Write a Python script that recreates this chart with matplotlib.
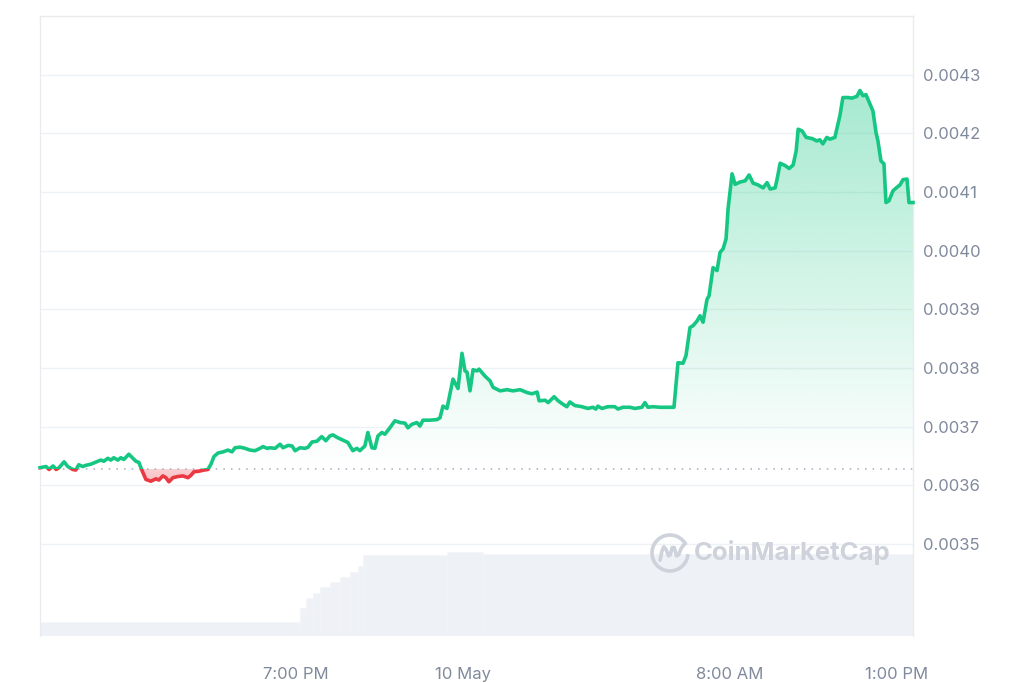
import matplotlib

matplotlib.use("Agg")
import matplotlib.pyplot as plt
import numpy as np
from matplotlib.patches import Rectangle, Arc
from matplotlib.path import Path

# hours relative to 10 May 00:00
TIMES = [
    -12.66, -12.48, -12.39, -12.27, -12.18, -12.09, -11.94, -11.83, -11.68, -11.59,
    -11.50, -11.38, -11.29, -11.14, -10.93, -10.84, -10.75, -10.63, -10.54, -10.45,
    -10.33, -10.24, -10.15, -10.00, -9.88, -9.79, -9.70, -9.61, -9.49, -9.34,
    -9.19, -9.10, -8.98, -8.89, -8.80, -8.68, -8.53, -8.38, -8.23, -8.14,
    -8.05, -7.90, -7.75, -7.63, -7.54, -7.45, -7.33, -7.18, -7.03, -6.91,
    -6.82, -6.67, -6.52, -6.37, -6.22, -6.07, -5.98, -5.86, -5.77, -5.62,
    -5.47, -5.38, -5.23, -5.11, -5.02, -4.87, -4.72, -4.63, -4.51, -4.37,
    -4.22, -4.10, -3.98, -3.89, -3.74, -3.59, -3.44, -3.29, -3.17, -3.08,
    -2.93, -2.84, -2.72, -2.63, -2.54, -2.42, -2.33, -2.18, -2.03, -1.88,
    -1.73, -1.64, -1.52, -1.37, -1.28, -1.19, -0.98, -0.77, -0.68, -0.59,
    -0.47, -0.29, -0.14, -0.02, 0.07, 0.13, 0.22, 0.31, 0.43, 0.49,
    0.67, 0.82, 0.91, 1.12, 1.33, 1.51, 1.72, 1.93, 2.08, 2.23,
    2.29, 2.47, 2.56, 2.74, 2.86, 3.01, 3.12, 3.21, 3.36, 3.57,
    3.75, 3.90, 3.99, 4.05, 4.17, 4.35, 4.56, 4.65, 4.80, 5.01,
    5.16, 5.37, 5.46, 5.55, 5.70, 5.91, 6.12, 6.30, 6.33, 6.45,
    6.60, 6.69, 6.81, 6.90, 7.02, 7.11, 7.20, 7.32, 7.38, 7.50,
    7.62, 7.71, 7.80, 7.89, 7.95, 8.07, 8.16, 8.31, 8.46, 8.58,
    8.70, 8.85, 9.00, 9.12, 9.21, 9.36, 9.42, 9.51, 9.66, 9.78,
    9.90, 9.99, 10.05, 10.17, 10.29, 10.47, 10.61, 10.70, 10.79, 10.91,
    11.00, 11.15, 11.30, 11.39, 11.54, 11.66, 11.81, 11.90, 11.99, 12.08,
    12.20, 12.29, 12.38, 12.44, 12.53, 12.62, 12.68, 12.77, 12.89, 13.01,
    13.10, 13.19, 13.31, 13.37, 13.49,
]

PRICES = [
    0.003630, 0.003632, 0.003627, 0.003633, 0.003627, 0.003630, 0.003640, 0.003632, 0.003627, 0.003626,
    0.003635, 0.003632, 0.003634, 0.003636, 0.003641, 0.003643, 0.003641, 0.003646, 0.003643, 0.003647,
    0.003643, 0.003647, 0.003644, 0.003653, 0.003646, 0.003641, 0.003639, 0.003626, 0.003610, 0.003607,
    0.003611, 0.003609, 0.003616, 0.003613, 0.003606, 0.003613, 0.003615, 0.003616, 0.003613, 0.003617,
    0.003623, 0.003624, 0.003626, 0.003627, 0.003636, 0.003649, 0.003655, 0.003657, 0.003660, 0.003657,
    0.003664, 0.003665, 0.003663, 0.003660, 0.003659, 0.003663, 0.003666, 0.003663, 0.003664, 0.003663,
    0.003670, 0.003664, 0.003668, 0.003667, 0.003659, 0.003664, 0.003663, 0.003665, 0.003674, 0.003675,
    0.003683, 0.003676, 0.003684, 0.003686, 0.003681, 0.003677, 0.003673, 0.003659, 0.003663, 0.003659,
    0.003667, 0.003690, 0.003664, 0.003663, 0.003684, 0.003690, 0.003687, 0.003698, 0.003710, 0.003707,
    0.003706, 0.003698, 0.003704, 0.003707, 0.003701, 0.003711, 0.003711, 0.003712, 0.003715, 0.003735,
    0.003731, 0.003781, 0.003765, 0.003825, 0.003795, 0.003793, 0.003761, 0.003797, 0.003795, 0.003798,
    0.003786, 0.003778, 0.003767, 0.003761, 0.003763, 0.003761, 0.003763, 0.003758, 0.003756, 0.003759,
    0.003744, 0.003745, 0.003741, 0.003751, 0.003744, 0.003738, 0.003734, 0.003742, 0.003736, 0.003734,
    0.003731, 0.003733, 0.003730, 0.003735, 0.003731, 0.003734, 0.003734, 0.003730, 0.003733, 0.003733,
    0.003731, 0.003733, 0.003741, 0.003733, 0.003734, 0.003733, 0.003733, 0.003733, 0.003733, 0.003809,
    0.003808, 0.003821, 0.003869, 0.003872, 0.003880, 0.003889, 0.003878, 0.003917, 0.003923, 0.003971,
    0.003966, 0.003997, 0.004003, 0.004020, 0.004071, 0.004131, 0.004113, 0.004117, 0.004119, 0.004129,
    0.004115, 0.004112, 0.004107, 0.004116, 0.004105, 0.004107, 0.004122, 0.004149, 0.004145, 0.004140,
    0.004146, 0.004170, 0.004207, 0.004204, 0.004193, 0.004191, 0.004187, 0.004189, 0.004182, 0.004193,
    0.004190, 0.004193, 0.004230, 0.004261, 0.004261, 0.004260, 0.004263, 0.004273, 0.004264, 0.004266,
    0.004250, 0.004238, 0.004202, 0.004187, 0.004153, 0.004148, 0.004082, 0.004085, 0.004102, 0.004108,
    0.004112, 0.004121, 0.004122, 0.004082, 0.004082,
]

REF_PRICE = 0.003628

# rolling volume bars: edges (hours) and values (USD)
VOL_EDGES = [-12.66, -4.87, -4.69, -4.48, -4.27, -3.98, -3.68, -3.38, -3.14, -2.99, -0.47, 0.61, 13.49]
VOLUMES = [140000, 281000, 381000, 431000, 491000, 541000, 582000, 632000, 700000, 802000, 832000, 812000]

PRICE_TICKS = [0.0035, 0.0036, 0.0037, 0.0038, 0.0039, 0.0040, 0.0041, 0.0042, 0.0043]
X_TICKS = [-5, 0, 8, 13]
X_LABELS = ["7:00 PM", "10 May", "8:00 AM", "1:00 PM"]

GREEN = "#16c784"
RED = "#ea3943"
TEXT = "#808a9d"
GRID = "#eff2f5"

plt.rcParams["font.family"] = ["Inter", "DejaVu Sans"]

fig = plt.figure(figsize=(10.24, 6.83), dpi=100)
vol_ax = fig.add_axes([0.0391, 0.0688, 0.8525, 0.9078])
ax = fig.add_axes([0.0391, 0.0688, 0.8525, 0.9078], sharex=vol_ax)
ax.patch.set_visible(False)

t = np.array(TIMES)
p = np.array(PRICES)
x0, x1 = TIMES[0], TIMES[-1]
y0, y1 = 0.0033431, 0.0044

# volume
widths = np.diff(VOL_EDGES)
vol_ax.bar(VOL_EDGES[:-1], VOLUMES, width=widths, align="edge", color="#eef1f5",
           edgecolor="#f3f5f8", linewidth=0.4)
vol_ax.set_ylim(0, max(VOLUMES) / 0.135)
vol_ax.set_yticks([])
vol_ax.tick_params(axis="x", length=0, labelbottom=False)
for s in vol_ax.spines.values():
    s.set_visible(False)

# price axis
ax.set_xlim(x0, x1)
ax.set_ylim(y0, y1)
ax.set_yticks(PRICE_TICKS)
ax.set_yticklabels([f"{v:.4f}" for v in PRICE_TICKS])
ax.yaxis.tick_right()
ax.tick_params(axis="y", length=0, pad=7, labelsize=12, labelcolor=TEXT)
ax.set_xticks(X_TICKS)
ax.set_xticklabels(X_LABELS)
ax.tick_params(axis="x", length=0, pad=22, labelsize=12, labelcolor=TEXT)
for v in PRICE_TICKS:
    ax.axhline(v, color=GRID, linewidth=1.0, zorder=0)
for side in ["top", "left", "right"]:
    ax.spines[side].set_color("#e9ebef")
    ax.spines[side].set_linewidth(1.0)
ax.spines["bottom"].set_visible(False)

# gradient fills between price and reference
poly = ax.fill_between(t, p, REF_PRICE, color="none", linewidth=0)
clip = Path.make_compound_path(*poly.get_paths())

g = np.linspace(0.38, 0.0, 256).reshape(-1, 1)
green_img = np.zeros((256, 1, 4))
green_img[..., :3] = matplotlib.colors.to_rgb(GREEN)
green_img[..., 3] = g
im = ax.imshow(green_img, extent=[x0, x1, REF_PRICE, max(PRICES)], aspect="auto",
               origin="upper", zorder=1, interpolation="bilinear")
im.set_clip_path(clip, transform=ax.transData)

r = np.linspace(0.24, 0.32, 64).reshape(-1, 1)
red_img = np.zeros((64, 1, 4))
red_img[..., :3] = matplotlib.colors.to_rgb(RED)
red_img[..., 3] = r
im2 = ax.imshow(red_img, extent=[x0, x1, min(PRICES), REF_PRICE], aspect="auto",
                origin="upper", zorder=1, interpolation="bilinear")
im2.set_clip_path(clip, transform=ax.transData)
ax.set_xlim(x0, x1)
ax.set_ylim(y0, y1)

# baseline
ax.axhline(REF_PRICE, color="#a6acb9", linewidth=1.1, linestyle=(0, (1, 4)), zorder=2)

# price line, green above the reference and red below it
up = ax.plot(t, p, color=GREEN, linewidth=2.6, solid_joinstyle="round", zorder=3)[0]
dn = ax.plot(t, p, color=RED, linewidth=2.6, solid_joinstyle="round", zorder=3)[0]
up.set_clip_path(Rectangle((x0 - 1, REF_PRICE), x1 - x0 + 2, 1, transform=ax.transData))
dn.set_clip_path(Rectangle((x0 - 1, REF_PRICE - 1), x1 - x0 + 2, 1, transform=ax.transData))

# watermark (logo ring + wave, then wordmark)
wm = "#cdd2db"
cx, cy, rx, ry = 0.7216, 0.1339, 0.0206, 0.0290
ax.add_patch(Arc((cx, cy), 2 * rx, 2 * ry, theta1=35, theta2=355, transform=ax.transAxes,
                 edgecolor=wm, linewidth=2.6, zorder=2))
wave_u = [-0.55, -0.45, -0.34, -0.22, -0.08, 0.02, 0.12, 0.24, 0.36, 0.48, 0.62, 0.80]
wave_v = [-0.40, 0.10, 0.34, 0.20, -0.16, -0.10, 0.30, 0.30, -0.16, -0.10, 0.25, 0.50]
ax.plot([cx + u * rx for u in wave_u], [cy + v * ry for v in wave_v], transform=ax.transAxes,
        color=wm, linewidth=2.6, solid_joinstyle="round", solid_capstyle="round", zorder=2)
ax.text(0.7491, 0.1339, "CoinMarketCap", transform=ax.transAxes, fontsize=18.5,
        fontweight="bold", color=wm, va="center", ha="left", zorder=2)

fig.savefig("out.png", dpi=100)
